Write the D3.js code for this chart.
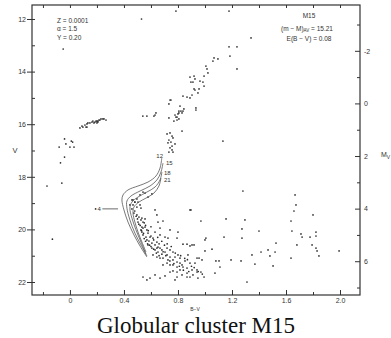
<!DOCTYPE html>
<html>
<head>
<meta charset="utf-8">
<script src="https://cdn.jsdelivr.net/npm/d3@7"></script>
<style>
  body { margin: 0; background: #fff; }
  svg { display: block; }
  .axis text { font-family: "Liberation Sans", Arial, sans-serif; font-size: 7px; fill: #333; }
  .axis path, .axis line { stroke: #333; }
  text.lbl, .lbl text { font-family: "Liberation Sans", Arial, sans-serif; fill: #333; }
</style>
</head>
<body>
<div id="chart"></div>
<script>
// ---- data (B-V, V) ----
const bvTicks = [0, 0.4, 0.8, 1.2, 1.6, 2.0];
const bvTickLabels = ["0", "0.4", "0.8", "1.2", "1.6", "2.0"];
const bvMinor = [-0.2, 0.2, 0.6, 1.0, 1.4, 1.8];
const vTicks = [12, 14, 16, 18, 20, 22];
const vMinor = [13, 15, 17, 19, 21];
const mvTicks = [-2, 0, 2, 4, 6];
const mvMinor = [-3, -1, 1, 3, 5, 7];
const distMod = 15.21;

const hbStars = [
  [0.074,16.14],[0.089,16.07],[0.111,16.03],[0.126,15.99],[0.133,15.95],[0.119,16.11],
  [0.148,15.95],[0.163,15.92],[0.170,15.88],[0.185,15.92],[0.200,15.88],[0.207,15.88],
  [0.215,15.84],[0.230,15.80],[0.244,15.80],[0.252,15.80],[0.267,15.84],[0.178,15.95],
  [0.200,15.95],[0.126,16.11],[0.096,16.11],[0.193,15.88],[0.222,15.84],[0.207,15.92]
];
const blueStars = [
  [-0.04,16.56],[0.01,16.64],[0.02,16.68],[-0.08,16.87],[0.0,16.87],[0.03,16.87],
  [-0.03,16.75],[-0.04,17.25],[-0.07,17.47],[-0.06,18.24],[-0.17,18.35],[-0.13,20.37],
  [-0.05,13.14],[0.54,15.69],[0.57,15.69],[0.63,15.65],[0.53,12.0]
];
const rgbStars = [
  [0.785,11.70],[1.178,11.70],[1.341,12.72],[1.178,13.06],[1.237,13.06],[1.185,13.41],
  [1.067,13.48],[1.096,13.52],[1.059,13.60],[1.007,13.79],[1.015,13.90],[1.237,13.90],
  [1.022,14.05],[0.919,14.17],[0.993,14.17],[0.926,14.28],[0.896,14.40],[0.963,14.36],
  [0.993,14.55],[0.919,14.66],[0.956,14.66],[0.904,14.89],[0.948,14.81],[0.889,15.00],
  [0.837,14.93],[0.748,15.08],[0.733,15.23],[0.815,15.31],[0.844,15.42],[0.933,15.46],
  [0.807,15.50],[0.822,15.50],[0.830,15.57],[0.807,15.57],[0.778,15.65],[0.793,15.73],
  [0.733,15.76],[0.637,15.57],[0.622,15.69],[0.807,15.80],[0.837,15.50],[0.800,15.61],
  [0.785,15.73],[0.770,15.88],[0.793,15.84],[0.830,16.26],[0.719,16.37],[0.741,16.33],
  [0.756,16.45],[0.763,16.52],[0.733,16.60],[0.748,16.68],[0.726,16.71],[0.778,16.75],
  [0.756,16.83],[0.741,16.90],[0.756,16.98],[0.733,17.06],[0.763,17.06],[0.933,15.38],
  [1.133,16.64],[0.741,15.08],[0.867,14.97],[0.911,14.40],[0.889,14.21],[0.926,14.70],
  [0.985,14.40]
];
const sgbStars = [
  [0.556,18.62],[0.541,18.58],[0.519,18.69],[0.496,18.84],[0.467,18.88],[0.481,18.96],
  [0.444,19.07],[0.578,18.77],[0.607,18.65],[0.504,18.96]
];
const msStars = [
  [0.459,18.88],[0.481,18.96],[0.467,19.07],[0.496,19.15],[0.459,19.22],[0.519,19.07],
  [0.526,19.19],[0.474,19.38],[0.496,19.45],[0.511,19.53],[0.533,19.57],[0.556,19.60],
  [0.526,19.64],[0.504,19.72],[0.541,19.72],[0.630,19.26],[0.644,19.45],[0.689,19.68],
  [0.652,19.72],[0.889,19.26],[0.533,19.91],[0.541,19.95],[0.556,19.91],[0.570,20.02],
  [0.526,20.02],[0.533,20.10],[0.578,20.14],[0.541,20.21],[0.563,20.29],[0.593,20.29],
  [0.615,20.33],[0.570,20.40],[0.585,20.44],[0.607,20.52],[0.644,20.48],[0.667,20.21],
  [0.704,20.29],[0.667,19.95],[0.726,20.33],[0.741,20.02],[0.793,20.33],[0.800,20.10],
  [0.837,20.56],[0.867,20.56],[0.904,20.59],[0.630,20.59],[0.652,20.67],[0.644,20.71],
  [0.667,20.71],[0.681,20.78],[0.652,20.86],[0.630,20.78],[0.704,20.86],[0.719,20.71],
  [0.741,20.78],[0.763,20.86],[0.681,20.94],[0.719,20.97],[0.741,21.05],[0.778,21.05],
  [0.800,20.97],[0.815,21.09],[0.763,21.16],[0.726,21.16],[0.689,21.09],[0.667,21.09],
  [0.644,21.05],[0.615,20.97],[0.793,21.24],[0.815,21.28],[0.830,21.35],[0.793,21.43],
  [0.763,21.35],[0.741,21.35],[0.719,21.28],[0.689,21.35],[0.837,21.43],[0.867,21.47],
  [0.889,21.28],[0.852,21.20],[0.904,21.54],[0.815,21.54],[0.793,21.62],[0.763,21.58],
  [0.741,21.62],[0.867,21.66],[0.830,21.73],[0.911,21.73],[0.889,21.81],[0.793,21.81],
  [0.941,21.09],[0.874,20.97],[0.926,21.28],[0.578,20.59],[0.607,20.71],[0.941,21.54],
  [0.948,21.85],[0.541,21.81],[0.630,21.73],[0.593,21.85],[0.667,21.85],[0.778,21.92],
  [0.570,21.92],[0.704,21.77],[0.867,21.81],
  [0.48,19.30],[0.49,19.50],[0.50,19.60],[0.51,19.80],[0.52,19.85],[0.53,20.05],
  [0.545,20.15],[0.55,20.35],[0.56,20.45],[0.575,20.55],[0.59,20.60],[0.60,20.65],
  [0.62,20.75],[0.64,20.90],[0.66,21.00],
  [0.70,20.60],[0.72,20.55],[0.68,20.45],[0.75,20.65],[0.78,20.90],[0.82,21.00],
  [0.85,21.10],[0.87,21.15],[0.90,21.40],[0.71,21.00],[0.74,21.20],[0.77,21.30],
  [0.81,21.40],[0.84,21.55],[0.88,21.60],[0.92,21.45],[0.95,21.60],[0.98,21.70],
  [0.69,20.85],[0.66,20.55],[0.62,20.40],[0.60,20.25],[0.58,20.05],[0.56,19.85],
  [0.55,19.75],[0.60,19.90],[0.63,20.10],[0.65,20.30]
];
const fieldStars = [
  [1.667,18.69],[1.674,19.07],[1.659,19.30],[0.970,19.68],[1.156,19.60],[1.296,19.64],
  [1.637,19.68],[1.800,19.45],[1.274,19.98],[1.400,20.06],[1.644,20.06],[1.822,20.10],
  [1.141,20.29],[1.274,20.33],[1.711,20.17],[1.719,20.29],[1.778,20.29],[1.822,20.25],
  [1.000,20.40],[1.007,20.33],[1.526,20.52],[1.681,20.59],[1.793,20.59],[1.822,20.71],
  [1.052,20.75],[1.000,20.82],[1.830,20.82],[1.467,20.78],[1.519,20.86],[1.415,20.86],
  [1.348,20.97],[1.481,21.01],[1.637,21.09],[1.993,20.82],[1.844,21.01],[0.956,21.09],
  [0.978,21.16],[1.081,21.20],[1.104,21.20],[1.193,21.16],[1.267,21.20],[1.370,21.32],
  [1.111,21.43],[1.504,21.39],[0.941,21.62],[0.970,21.62],[1.074,21.66],[0.993,21.81],
  [1.311,22.00],[1.281,18.54],[0.889,20.63],[0.919,20.59],[0.896,19.26]
];

// isochrones (ages in Gyr)
const iso12 = [[0.680,17.29],[0.667,17.67],[0.637,17.97],[0.578,18.20],[0.504,18.35],[0.430,18.50],
  [0.393,18.69],[0.385,18.88],[0.400,19.26],[0.430,19.72],[0.474,20.21],[0.519,20.63],[0.570,21.05]];
const iso15 = [[0.689,17.48],[0.674,17.82],[0.644,18.12],[0.593,18.35],[0.519,18.54],[0.452,18.73],
  [0.422,18.92],[0.422,19.19],[0.444,19.64],[0.481,20.14],[0.526,20.59],[0.570,21.01]];
const iso18 = [[0.681,17.82],[0.667,18.12],[0.630,18.39],[0.570,18.58],[0.504,18.77],[0.459,18.96],
  [0.444,19.19],[0.459,19.57],[0.489,20.02],[0.526,20.48],[0.563,20.94]];
const iso21 = [[0.674,18.05],[0.659,18.35],[0.622,18.62],[0.563,18.81],[0.511,18.96],[0.474,19.15],
  [0.467,19.38],[0.481,19.72],[0.504,20.10],[0.533,20.48],[0.563,20.86]];
const isoAges = ["12", "15", "18", "21"];
const isoLabelPos = [[0.64,17.22],[0.711,17.48],[0.696,17.86],[0.696,18.12]];
const star4 = [0.19, 19.22];

// ---- layout ----
const W = 391, H = 338;
const frame = { left: 32, right: 360, top: 5, bottom: 295 };
const ink = "#333";

const svg = d3.select("#chart").append("svg")
  .attr("width", W).attr("height", H);

const x = d3.scaleLinear().domain([-0.281, 2.148]).range([frame.left, frame.right]);
const y = d3.scaleLinear().domain([11.468, 22.494]).range([frame.top, frame.bottom]);
const yMv = d3.scaleLinear().domain([11.468 - distMod, 22.494 - distMod]).range([frame.top, frame.bottom]);

// stars
const allStars = [].concat(hbStars, blueStars, rgbStars, sgbStars, msStars, fieldStars);
svg.append("g").attr("class", "stars")
  .selectAll("circle").data(allStars).join("circle")
  .attr("cx", d => x(d[0])).attr("cy", d => y(d[1]))
  .attr("r", 0.85).attr("fill", "#2a2a2a");

// isochrones
const line = d3.line().x(d => x(d[0])).y(d => y(d[1])).curve(d3.curveCatmullRom.alpha(0.5));
svg.append("g").attr("class", "iso")
  .selectAll("path").data([iso12, iso15, iso18, iso21]).join("path")
  .attr("d", line).attr("fill", "none").attr("stroke", "#555").attr("stroke-width", 0.8);

svg.append("g").selectAll("text").data(isoAges).join("text")
  .attr("class", "lbl").attr("font-size", 6).attr("fill", ink)
  .attr("x", (d, i) => x(isoLabelPos[i][0])).attr("y", (d, i) => y(isoLabelPos[i][1]))
  .attr("dy", "0.35em").text(d => d);

// star no. 4 marker
svg.append("circle").attr("cx", x(star4[0])).attr("cy", y(star4[1])).attr("r", 0.9).attr("fill", ink);
svg.append("text").attr("class", "lbl").attr("font-size", 6).attr("fill", ink)
  .attr("x", x(star4[0]) + 2).attr("y", y(star4[1])).attr("dy", "0.35em").text("4");
svg.append("line")
  .attr("x1", x(0.24)).attr("x2", x(0.356)).attr("y1", y(star4[1])).attr("y2", y(star4[1]))
  .attr("stroke", "#444").attr("stroke-width", 0.8);

// axes
const fmtBv = d => bvTickLabels[bvTicks.indexOf(d)];
svg.append("g").attr("class", "axis")
  .attr("transform", `translate(0,${frame.bottom})`)
  .call(d3.axisBottom(x).tickValues(bvTicks).tickFormat(fmtBv).tickSize(-5).tickPadding(3).tickSizeOuter(0));
svg.append("g").attr("class", "axis")
  .attr("transform", `translate(0,${frame.bottom})`)
  .call(d3.axisBottom(x).tickValues(bvMinor).tickFormat("").tickSize(-3).tickSizeOuter(0));
svg.append("g").attr("class", "axis")
  .attr("transform", `translate(0,${frame.top})`)
  .call(d3.axisTop(x).tickValues(bvTicks.concat(bvMinor)).tickFormat("").tickSize(-3).tickSizeOuter(0));

svg.append("g").attr("class", "axis")
  .attr("transform", `translate(${frame.left},0)`)
  .call(d3.axisLeft(y).tickValues(vTicks).tickFormat(d3.format("d")).tickSize(5).tickPadding(1).tickSizeOuter(0));
svg.append("g").attr("class", "axis")
  .attr("transform", `translate(${frame.left},0)`)
  .call(d3.axisLeft(y).tickValues(vTicks.concat(vMinor)).tickFormat("").tickSize(-3).tickSizeOuter(0));

svg.append("g").attr("class", "axis")
  .attr("transform", `translate(${frame.right},0)`)
  .call(d3.axisRight(yMv).tickValues(mvTicks).tickFormat(d => d < 0 ? "-" + Math.abs(d) : d).tickSize(-5).tickPadding(4).tickSizeOuter(0));
svg.append("g").attr("class", "axis")
  .attr("transform", `translate(${frame.right},0)`)
  .call(d3.axisRight(yMv).tickValues(mvMinor).tickFormat("").tickSize(-3).tickSizeOuter(0));

svg.selectAll(".axis .domain").remove();

// frame
svg.append("rect")
  .attr("x", frame.left).attr("y", frame.top)
  .attr("width", frame.right - frame.left).attr("height", frame.bottom - frame.top)
  .attr("fill", "none").attr("stroke", ink).attr("stroke-width", 1.2);

// axis titles
svg.append("text").attr("class", "lbl").attr("font-size", 7.5).attr("fill", ink)
  .attr("x", 15).attr("y", 150).attr("text-anchor", "middle").attr("dy", "0.35em").text("V");
const mvLbl = svg.append("text").attr("class", "lbl").attr("font-size", 7).attr("fill", ink)
  .attr("x", 381).attr("y", 157);
mvLbl.append("tspan").text("M");
mvLbl.append("tspan").attr("font-size", 5).attr("dy", 2).text("V");
svg.append("text").attr("class", "lbl").attr("font-size", 5).attr("fill", ink)
  .attr("x", 195).attr("y", 310.5).attr("text-anchor", "middle").text("B\u2212V");

// parameter notes
const notesL = ["Z = 0.0001", "\u03b1 = 1.5", "Y = 0.20"];
svg.append("g").selectAll("text").data(notesL).join("text")
  .attr("class", "lbl").attr("font-size", 6.5).attr("fill", ink)
  .attr("x", 57).attr("y", (d, i) => 22.5 + i * 8.7).text(d => d);

const noteR = svg.append("g").attr("class", "lbl").attr("font-size", 6.5)
  .attr("fill", ink).attr("text-anchor", "middle");
noteR.append("text").attr("fill", ink).attr("x", 309).attr("y", 18).text("M15");
const dm = noteR.append("text").attr("fill", ink).attr("x", 307).attr("y", 30.5);
dm.append("tspan").text("(m \u2212 M)");
dm.append("tspan").attr("font-size", 4.5).attr("dy", 1.5).text("AV");
dm.append("tspan").attr("dy", -1.5).text(" = 15.21");
noteR.append("text").attr("fill", ink).attr("x", 309).attr("y", 40.5).text("E(B \u2212 V) = 0.08");

// caption
svg.append("text")
  .attr("x", 196).attr("y", 333).attr("text-anchor", "middle")
  .attr("font-family", "'Liberation Serif', 'Times New Roman', serif").attr("font-size", 23)
  .attr("fill", "#111").text("Globular cluster M15");
</script>
</body>
</html>
